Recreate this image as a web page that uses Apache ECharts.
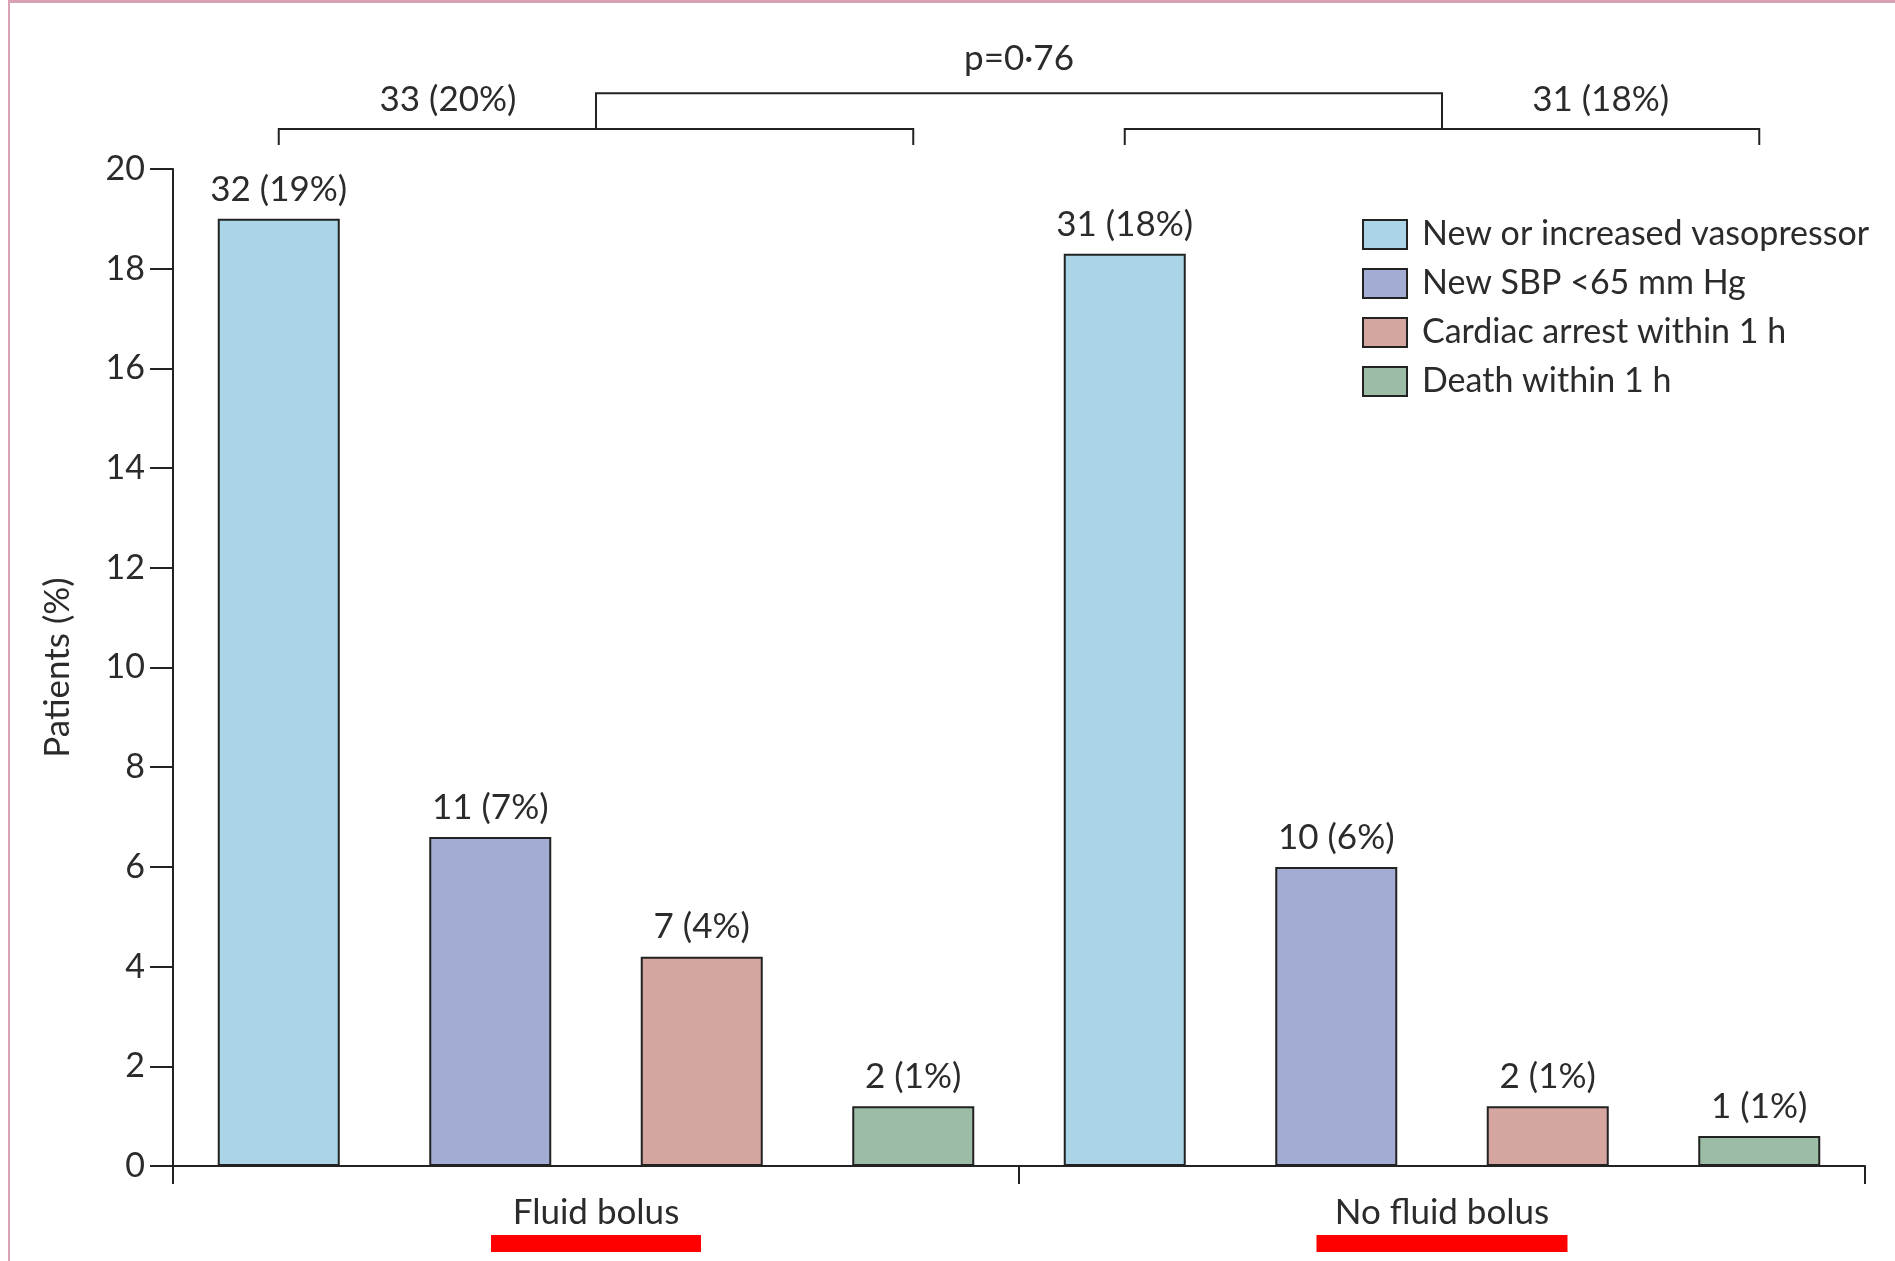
<!DOCTYPE html>
<html>
<head>
<meta charset="utf-8">
<title>Fluid bolus outcomes</title>
<script src="https://cdn.jsdelivr.net/npm/echarts@6/dist/echarts.min.js"></script>
<style>
    html, body { margin: 0; padding: 0; background: #fff; }
    #main { width: 1895px; height: 1261px; }
    #frame { position: absolute; left: 8px; top: 0; width: 1887px; height: 1261px;
             border-top: 3px solid #d9a1b5; border-left: 2px solid #d9a1b5; box-sizing: border-box;
             pointer-events: none; }
</style>
</head>
<body>
<div id="main"></div>
<div id="frame"></div>
<script>
// groups on the x axis and the four outcomes (legend)
const groups = ['Fluid bolus', 'No fluid bolus']
const outcomes = ['New or increased vasopressor', 'New SBP <65 mm Hg', 'Cardiac arrest within 1 h', 'Death within 1 h']
const colors = ['#abd4e6', '#a3acd3', '#d5a6a0', '#9dbca6']

// bar heights (patients %), per group
const pctFluid = [19.0, 6.6, 4.2, 1.2]
const pctNoFluid = [18.3, 6.0, 1.2, 0.6]
// labels on top of the bars
const labelsFluid = ['32 (19%)', '11 (7%)', '7 (4%)', '2 (1%)']
const labelsNoFluid = ['31 (18%)', '10 (6%)', '2 (1%)', '1 (1%)']

// totals on the brackets and the p value
const totals = ['33 (20%)', '31 (18%)']
const pLabel = 'p=0·76'

const yMin = 0
const yMax = 20
const yStep = 2

const FONT = 'Lato'
const TXT = '#2b2b2b'

// one slot per bar: 4 outcomes x 2 groups
let slots = []
groups.forEach(g => outcomes.forEach(o => slots.push(g + ' / ' + o)))
let values = [pctFluid, pctNoFluid]
let labels = [labelsFluid, labelsNoFluid]

let barSeries = outcomes.map((name, k) => {
    let data = slots.map(() => '-')
    let lab = slots.map(() => '')
    groups.forEach((g, gi) => {
        data[gi * outcomes.length + k] = values[gi][k]
        lab[gi * outcomes.length + k] = labels[gi][k]
    })
    return {
        name: name,
        type: 'bar',
        xAxisIndex: 0,
        data: data,
        barWidth: 122,
        barGap: '-100%',
        itemStyle: { color: colors[k], borderColor: '#222', borderWidth: 2 },
        label: {
            show: true,
            position: 'top',
            distance: 12,
            fontFamily: FONT,
            fontSize: 35,
            color: TXT,
            formatter: p => lab[p.dataIndex]
        },
        emphasis: { disabled: true }
    }
})

// brackets above the bars, drawn in data space
let bracketSeries = {
    type: 'custom',
    xAxisIndex: 0,
    yAxisIndex: 0,
    clip: false,
    silent: true,
    data: [[0, 0]],
    renderItem: function (params, api) {
        let at = (x, y) => {
            let x0 = Math.floor(x), x1 = Math.ceil(x)
            let p0 = api.coord([x0, y]), p1 = api.coord([x1, y])
            return [p0[0] + (p1[0] - p0[0]) * (x - x0), p0[1]]
        }
        let n = outcomes.length
        let lowY = 20.8, lowEnd = 20.48, topY = 21.52
        let lineStyle = { stroke: '#222', lineWidth: 2, fill: null }
        let children = []
        let joints = []
        groups.forEach((g, gi) => {
            let a = gi * n, b = gi * n + n - 1
            children.push({
                type: 'polyline',
                shape: { points: [at(a, lowEnd), at(a, lowY), at(b, lowY), at(b, lowEnd)] },
                style: lineStyle
            })
            joints.push((a + b) / 2)
        })
        children.push({
            type: 'polyline',
            shape: { points: [at(joints[0], lowY), at(joints[0], topY), at(joints[1], topY), at(joints[1], lowY)] },
            style: lineStyle
        })
        // totals, halfway between outer end and joint
        let totalX = [(0 + joints[0]) / 2 + 0.05, (joints[1] + slots.length - 1) / 2]
        totals.forEach((t, i) => {
            let p = at(totalX[i], 21.38)
            children.push({
                type: 'text',
                x: p[0], y: p[1],
                style: { text: t, fontFamily: FONT, fontSize: 35, fill: TXT, align: 'center', verticalAlign: 'middle' }
            })
        })
        let pp = at((joints[0] + joints[1]) / 2, 22.22)
        children.push({
            type: 'text',
            x: pp[0], y: pp[1],
            style: { text: pLabel, fontFamily: FONT, fontSize: 35, fill: TXT, align: 'center', verticalAlign: 'middle' }
        })
        return { type: 'group', children: children }
    }
}

let underline = [210, 251]

let option = {
    animation: false,
    backgroundColor: '#fff',
    textStyle: { fontFamily: FONT },
    grid: { left: 173, right: 30, top: 169, bottom: 89 },
    legend: {
        data: outcomes,
        orient: 'vertical',
        left: 1357,
        top: 212,
        itemWidth: 44,
        itemHeight: 29,
        itemGap: 14,
        icon: 'rect',
        itemStyle: { borderColor: '#222', borderWidth: 2 },
        textStyle: { fontFamily: FONT, fontSize: 34, color: TXT, lineHeight: 35, padding: [0, 0, 0, 10] },
        selectedMode: false
    },
    xAxis: [
        {
            type: 'category',
            data: slots,
            show: false,
            boundaryGap: true
        },
        {
            type: 'category',
            data: groups,
            position: 'bottom',
            boundaryGap: true,
            axisLine: { show: true, lineStyle: { color: '#222', width: 2 } },
            axisTick: { show: true, length: 18, lineStyle: { color: '#222', width: 2 } },
            axisLabel: {
                margin: 25,
                fontFamily: FONT,
                fontSize: 35,
                color: TXT,
                lineHeight: 44,
                formatter: (v, i) => v + '\n{u' + i + '|}',
                rich: {
                    u0: { width: underline[0], height: 17, lineHeight: 17, backgroundColor: '#ff0000' },
                    u1: { width: underline[1], height: 17, lineHeight: 17, backgroundColor: '#ff0000' }
                }
            }
        }
    ],
    yAxis: {
        type: 'value',
        min: yMin,
        max: yMax,
        interval: yStep,
        name: 'Patients (%)',
        nameLocation: 'middle',
        nameGap: 98,
        nameTextStyle: { fontFamily: FONT, fontSize: 35, color: TXT },
        axisLine: { show: true, lineStyle: { color: '#222', width: 2 } },
        axisTick: { show: true, length: 23, lineStyle: { color: '#222', width: 2 } },
        axisLabel: { margin: 28, fontFamily: FONT, fontSize: 34, color: TXT },
        splitLine: { show: false }
    },
    series: [...barSeries, bracketSeries]
}

let chart = echarts.init(document.getElementById('main'))
chart.setOption(option)
</script>
</body>
</html>
